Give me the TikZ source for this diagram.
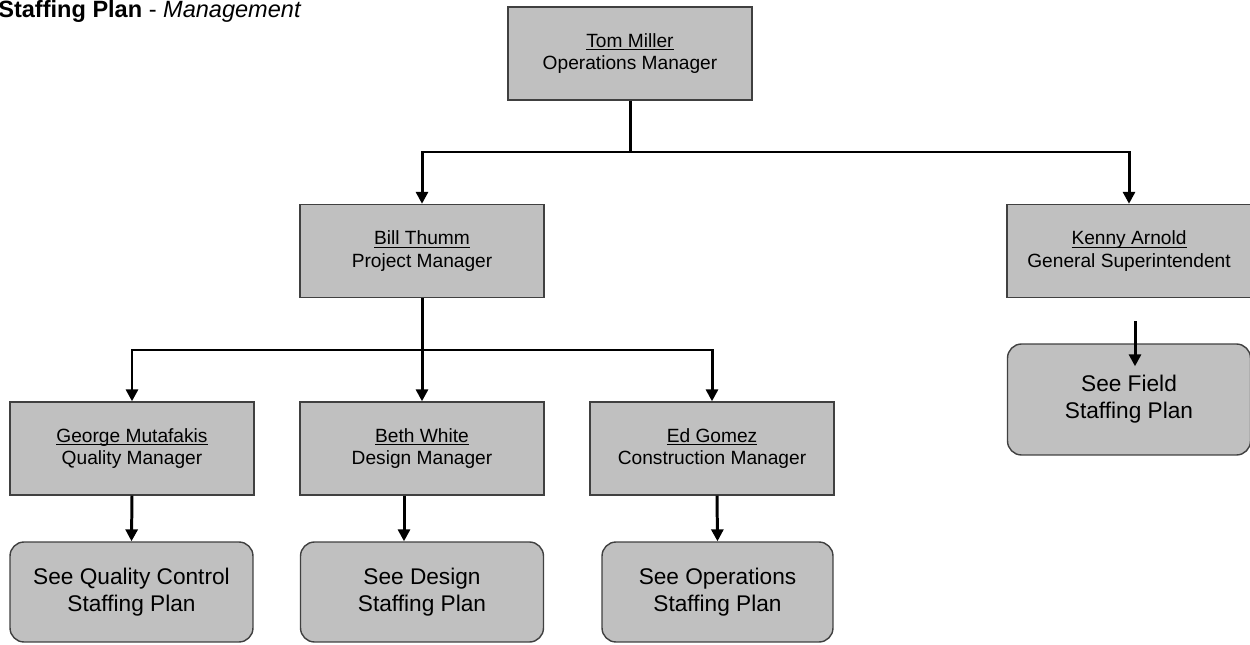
\documentclass[tikz,border=0pt]{standalone}
\usepackage{fontspec}
\setmainfont{Liberation Sans}
\usetikzlibrary{positioning,arrows.meta}
\definecolor{BoxGrey}{RGB}{192,192,192}
\newcommand{\uname}[1]{\underline{\raisebox{0pt}[\height][0pt]{#1}}}

\begin{document}
\begin{tikzpicture}[x=0.02cm, y=-0.02cm,
    % Style of the boxes
    posbox/.style={rectangle, draw=black!75, line width=0.8pt, fill=BoxGrey, minimum width=4.88cm, minimum height=1.86cm, inner sep=0pt, align=center, font=\fontsize{10.9}{13}\selectfont},
    planbox/.style={rectangle, rounded corners=0.28cm, draw=black!75, line width=0.8pt, fill=BoxGrey, minimum width=4.86cm, minimum height=2cm, inner sep=0pt, align=center, font=\fontsize{12.9}{15.3}\selectfont},
    % Style of the connectors
    edge/.style={draw=black, line width=1.7pt},
    arrowedge/.style={-{Triangle[length=6.8pt, width=6.8pt]}, draw=black, line width=1.7pt},
    % Style of the title
    titlelabel/.style={anchor=base west, inner sep=0pt, font=\fontsize{13.4}{16}\selectfont}
]
    \useasboundingbox (0,0) rectangle (1250,645);

    % --- TITLE ---
    \node[titlelabel] (title) at (-2,17.5) {\textbf{Staffing Plan} - \textit{Management}};

    % --- BOXES ---
    % Level 1
    \node[posbox] (tom) at (630,53.5) {\uname{Tom Miller}\\Operations Manager};

    % Level 2
    \node[posbox] (bill) at (422,251) {\uname{Bill Thumm}\\Project Manager};
    \node[posbox] (kenny) at (1129,251) {\uname{Kenny Arnold}\\General Superintendent};

    % Level 3
    \node[posbox] (george) at (132,448.5) {\uname{George Mutafakis}\\Quality Manager};
    \node[posbox] (beth) at (422,448.5) {\uname{Beth White}\\Design Manager};
    \node[posbox] (ed) at (712,448.5) {\uname{Ed Gomez}\\Construction Manager};

    % Staffing plans
    \node[planbox] (qcplan) at (131.5,592) {See Quality Control\\Staffing Plan};
    \node[planbox] (dsplan) at (422,592) {See Design\\Staffing Plan};
    \node[planbox, minimum width=4.62cm] (opplan) at (717.5,592) {See Operations\\Staffing Plan};
    \node[planbox, minimum height=2.22cm] (fsplan) at (1129,399.5) {See Field\\Staffing Plan};

    % --- CONNECTORS ---
    \coordinate (j1) at (630,152);
    \coordinate (j2) at (422,350);

    % Tom Miller to level 2
    \draw[edge] (tom.south) -- (j1);
    \draw[arrowedge] (j1) -| (bill.north);
    \draw[arrowedge] (j1) -| (kenny.north);

    % Bill Thumm to level 3
    \draw[edge] (bill.south) -- (j2);
    \draw[arrowedge] (j2) -| (george.north);
    \draw[arrowedge] (j2) -- (beth.north);
    \draw[arrowedge] (j2) -| (ed.north);

    % Managers to staffing plans
    \draw[arrowedge] (george.south) -- (qcplan.north);
    \draw[arrowedge] ([xshift=-0.36cm]beth.south) -- ([xshift=-0.36cm]dsplan.north);
    \draw[arrowedge] ([xshift=0.1cm]ed.south) -- (opplan.north);
    \draw[arrowedge] ([xshift=0.12cm, yshift=-0.46cm]kenny.south) -- ([xshift=0.12cm, yshift=-0.46cm]fsplan.north); % overlaps the box

\end{tikzpicture}
\end{document}
